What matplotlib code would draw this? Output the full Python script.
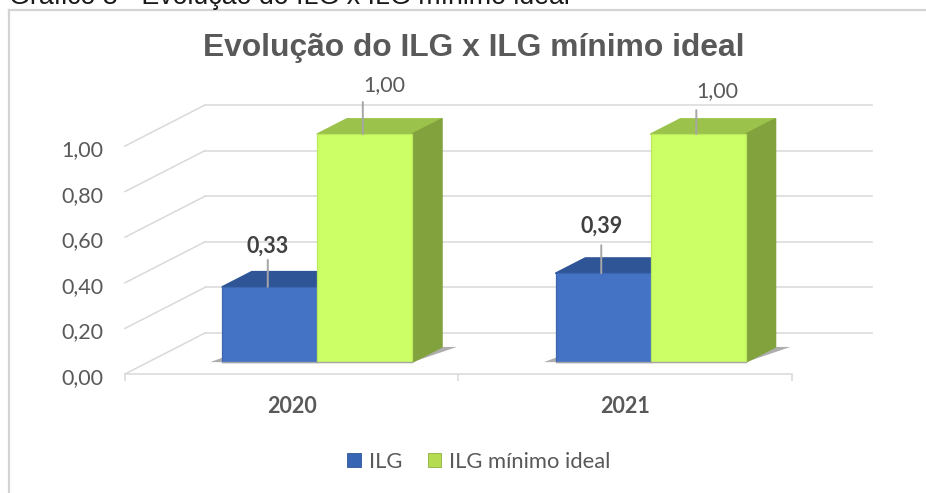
import matplotlib
matplotlib.use("Agg")
import matplotlib.pyplot as plt
from matplotlib.lines import Line2D
from matplotlib.patches import Patch, Polygon
from matplotlib.transforms import ScaledTranslation

years = ["2020", "2021"]
ilg = [0.33, 0.39]
ilg_minimo = [1.00, 1.00]
y_ticks = [0.0, 0.2, 0.4, 0.6, 0.8, 1.0]
y_tick_labels = ["0,00", "0,20", "0,40", "0,60", "0,80", "1,00"]
caption = "Gráfico 8 - Evolução do ILG x ILG mínimo ideal"
title = "Evolução do ILG x ILG mínimo ideal"

W, H = 926, 493
GRID = "#d9d9d9"
TXT = "#595959"

# full depth of the fake 3d floor, in data units
DEPTH_X = 80 / 333.5
DEPTH_Y = 41 / 228
BAR_W = 0.285
D0, D1 = 0.29, 0.66


def proj(x, y, d):
    return (x + d * DEPTH_X, y + d * DEPTH_Y)


def box(ax, x, v, front, edge, top, side):
    x1 = x + BAR_W
    ax.add_patch(Polygon([proj(x, v, D0), proj(x1, v, D0), proj(x1, v, D1), proj(x, v, D1)],
                         fc=top, ec=top, lw=1.2, joinstyle="round", zorder=3, clip_on=False))
    ax.add_patch(Polygon([proj(x1, 0, D0), proj(x1, 0, D1), proj(x1, v, D1), proj(x1, v, D0)],
                         fc=side, ec=side, lw=1.2, joinstyle="round", zorder=3, clip_on=False))
    fx, fy = proj(x, 0, D0)
    ax.bar(fx, v, BAR_W, bottom=fy, align="edge", color=front, edgecolor=edge,
           linewidth=0.9, zorder=4, clip_on=False)
    ax.plot([fx, fx + BAR_W], [fy, fy], color="#a6a6a6", lw=1, zorder=5, clip_on=False)


def shadow(ax, x0, x1):
    ax.add_patch(Polygon([proj(x0 - 0.036, 0, D0), proj(x1, 0, D0),
                          proj(x1 + 0.045, 0, D1), proj(x0, 0, D1)],
                         fc="#8c8c8c", ec="none", alpha=0.7, zorder=2, clip_on=False))


def label(ax, x, v, text, dx, dy, top_px, bold, color):
    px, py = proj(x, v, D0)
    ax.annotate("", xy=(px, py), xytext=(0, top_px), textcoords="offset pixels",
                arrowprops=dict(arrowstyle="-", color="#a6a6a6", lw=1.4, shrinkA=0, shrinkB=0),
                zorder=6, annotation_clip=False)
    ax.annotate(text, xy=(px, py), xytext=(dx, dy), textcoords="offset pixels",
                ha="center", va="center", fontsize=15.5, family="Lato",
                fontweight="bold" if bold else "normal", color=color, zorder=6,
                annotation_clip=False)


fig = plt.figure(figsize=(W / 100, H / 100), dpi=100, facecolor="white")
ax = fig.add_axes([125 / W, (H - 374) / H, 667 / W, 228 / H])
ax.set_xlim(0, 2)
ax.set_ylim(0, 1)
ax.patch.set_visible(False)

# chart frame, cut off by the image on the right and at the bottom
fig.add_artist(Line2D([8.5 / W, 1], [1 - 9.5 / H] * 2, color="#d4d4d4", lw=1.6))
fig.add_artist(Line2D([8.5 / W] * 2, [0, 1 - 9.5 / H], color="#d4d4d4", lw=1.6))
fig.text(9 / W, 1 - 4 / H, caption, fontsize=19.3, family="Liberation Sans",
         color="#1a1a1a", ha="left", va="baseline")
fig.text(474 / W, 1 - 48 / H, title, fontsize=22.9, family="Liberation Sans",
         fontweight="bold", color=TXT, ha="center", va="center")

# walls
for t in y_ticks:
    ax.plot([0, DEPTH_X], [t, t + DEPTH_Y], color=GRID, lw=1.1, zorder=1, clip_on=False)
    ax.plot([DEPTH_X, 2 + DEPTH_X], [t + DEPTH_Y] * 2, color=GRID, lw=1.1, zorder=1, clip_on=False)

for s in ["top", "right", "left"]:
    ax.spines[s].set_visible(False)
ax.spines["bottom"].set_color(GRID)
ax.spines["bottom"].set_linewidth(1.1)

ax.set_yticks(y_ticks)
ax.set_yticklabels(y_tick_labels, fontsize=15.5, family="Lato", color=TXT)
ax.tick_params(axis="y", length=0, pad=15.7)
for t in ax.get_yticklabels():
    t.set_transform(t.get_transform() + ScaledTranslation(0, -2 / 100, fig.dpi_scale_trans))
ax.set_xticks([0, 1, 2])
ax.set_xticklabels([])
ax.tick_params(axis="x", length=5, width=1.1, color=GRID)
ax.set_xticks([0.5, 1.5], minor=True)
ax.set_xticklabels(years, minor=True, fontsize=15.5, family="Lato", fontweight="bold", color=TXT)
ax.tick_params(axis="x", which="minor", length=0, pad=15.5)

for i in range(len(years)):
    x_blue = i + 0.222
    x_green = x_blue + BAR_W
    shadow(ax, x_blue, x_green + BAR_W)
    box(ax, x_blue, ilg[i], "#4472c4", "#3d66b0", "#2f5597", "#2f5597")
    box(ax, x_green, ilg_minimo[i], "#ccff66", "#bce85c", "#9bc24a", "#82a23e")

label(ax, 0.216 + BAR_W / 2, ilg[0], "0,33", 0, 41, 27, True, "#404040")
label(ax, 1.216 + BAR_W / 2, ilg[1], "0,39", 0, 47, 28, True, "#404040")
label(ax, 0.501 + BAR_W / 2, ilg_minimo[0], "1,00", 21, 49, 32, False, TXT)
label(ax, 1.501 + BAR_W / 2, ilg_minimo[1], "1,00", 21, 43, 24, False, TXT)

handles = [Patch(fc="#3864b4", ec="#2f5597", lw=0.6), Patch(fc="#b5dc50", ec="#8fae3e", lw=0.6)]
fig.legend(handles, ["ILG", "ILG mínimo ideal"], loc="center", bbox_to_anchor=(479 / W, 1 - 462 / H),
           ncol=2, frameon=False, handlelength=0.62, handleheight=0.62, handletextpad=0.36,
           columnspacing=1.17, prop={"family": "Lato", "size": 15.8}, labelcolor=TXT)

fig.savefig("out.png", dpi=100)
